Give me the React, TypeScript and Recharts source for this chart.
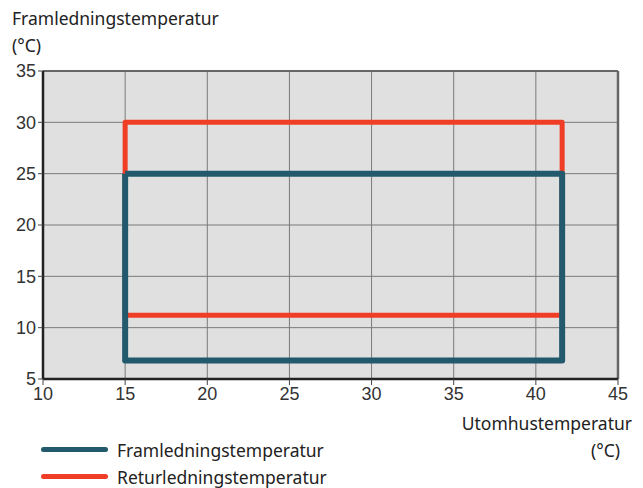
import { CartesianGrid, Line, LineChart, ReferenceLine, XAxis, YAxis } from 'recharts';

const xTicks = [10, 15, 20, 25, 30, 35, 40, 45];
const yTicks = [5, 10, 15, 20, 25, 30, 35];

// rectangle corners (outdoor temp, flow temp)
const framledning = [
  { x: 15, y: 25 },
  { x: 41.6, y: 25 },
  { x: 41.6, y: 6.8 },
  { x: 15, y: 6.8 },
  { x: 15, y: 25 },
];

const returledning = [
  { x: 15, y: 11.2 },
  { x: 15, y: 30 },
  { x: 41.6, y: 30 },
  { x: 41.6, y: 11.2 },
  { x: 15, y: 11.2 },
];

const BLUE = '#22596c';
const RED = '#ef3e25';
const titleFont = '"Noto Sans", sans-serif';
const titleSize = 17.5;

function LegendBox() {
  const rows = [
    { name: 'Framledningstemperatur', color: BLUE },
    { name: 'Returledningstemperatur', color: RED },
  ];
  return (
    <div style={{ position: 'absolute', left: 41, top: 436, fontFamily: titleFont, fontSize: titleSize, color: '#222' }}>
      {rows.map((r) => (
        <div key={r.name} style={{ display: 'flex', alignItems: 'center', height: 27 }}>
          <div style={{ width: 67, height: 5, borderRadius: 3, background: r.color, marginRight: 9 }} />
          <span>{r.name}</span>
        </div>
      ))}
    </div>
  );
}

export default function App() {
  const tick = { fill: '#333', fontSize: 18, fontFamily: 'Arial, "Liberation Sans", sans-serif' };
  return (
    <div style={{ position: 'relative', width: 643, height: 488, background: '#fff' }}>
      <style>{'body{margin:0}'}</style>
      <div style={{ position: 'absolute', left: 12, top: 5, fontFamily: titleFont, fontSize: titleSize, color: '#222', lineHeight: '27px' }}>
        Framledningstemperatur
        <br />
        (°C)
      </div>
      <div style={{ position: 'absolute', right: 11, top: 410, fontFamily: titleFont, fontSize: titleSize, color: '#222', lineHeight: '27px', textAlign: 'right' }}>
        Utomhustemperatur
        <br />
        <span style={{ marginRight: 12 }}>(°C)</span>
      </div>
      <LineChart width={643} height={488} margin={{ top: 71, right: 25, bottom: 79, left: 0 }}>
        <CartesianGrid fill="#e0e0e0" stroke="#7a7a7a" strokeWidth={1} />
        <XAxis
          type="number"
          dataKey="x"
          domain={[10, 45]}
          ticks={xTicks}
          interval={0}
          tick={tick}
          tickSize={6}
          tickLine={{ stroke: '#444' }}
          axisLine={{ stroke: '#222', strokeWidth: 2.5 }}
          height={30}
        />
        <YAxis
          type="number"
          dataKey="y"
          domain={[5, 35]}
          ticks={yTicks}
          interval={0}
          tick={tick}
          tickSize={5}
          tickLine={{ stroke: '#444' }}
          axisLine={{ stroke: '#222', strokeWidth: 2.5 }}
          width={43}
        />
        <ReferenceLine y={35} stroke="#666" strokeWidth={2} />
        <ReferenceLine x={45} stroke="#666" strokeWidth={2.5} />
        <Line
          data={returledning}
          dataKey="y"
          type="linear"
          stroke={RED}
          strokeWidth={5}
          dot={false}
          strokeLinejoin="round"
          isAnimationActive={false}
          name="Returledningstemperatur"
        />
        <Line
          data={framledning}
          dataKey="y"
          type="linear"
          stroke={BLUE}
          strokeWidth={6}
          dot={false}
          strokeLinejoin="round"
          isAnimationActive={false}
          name="Framledningstemperatur"
        />
      </LineChart>
      <LegendBox />
    </div>
  );
}
